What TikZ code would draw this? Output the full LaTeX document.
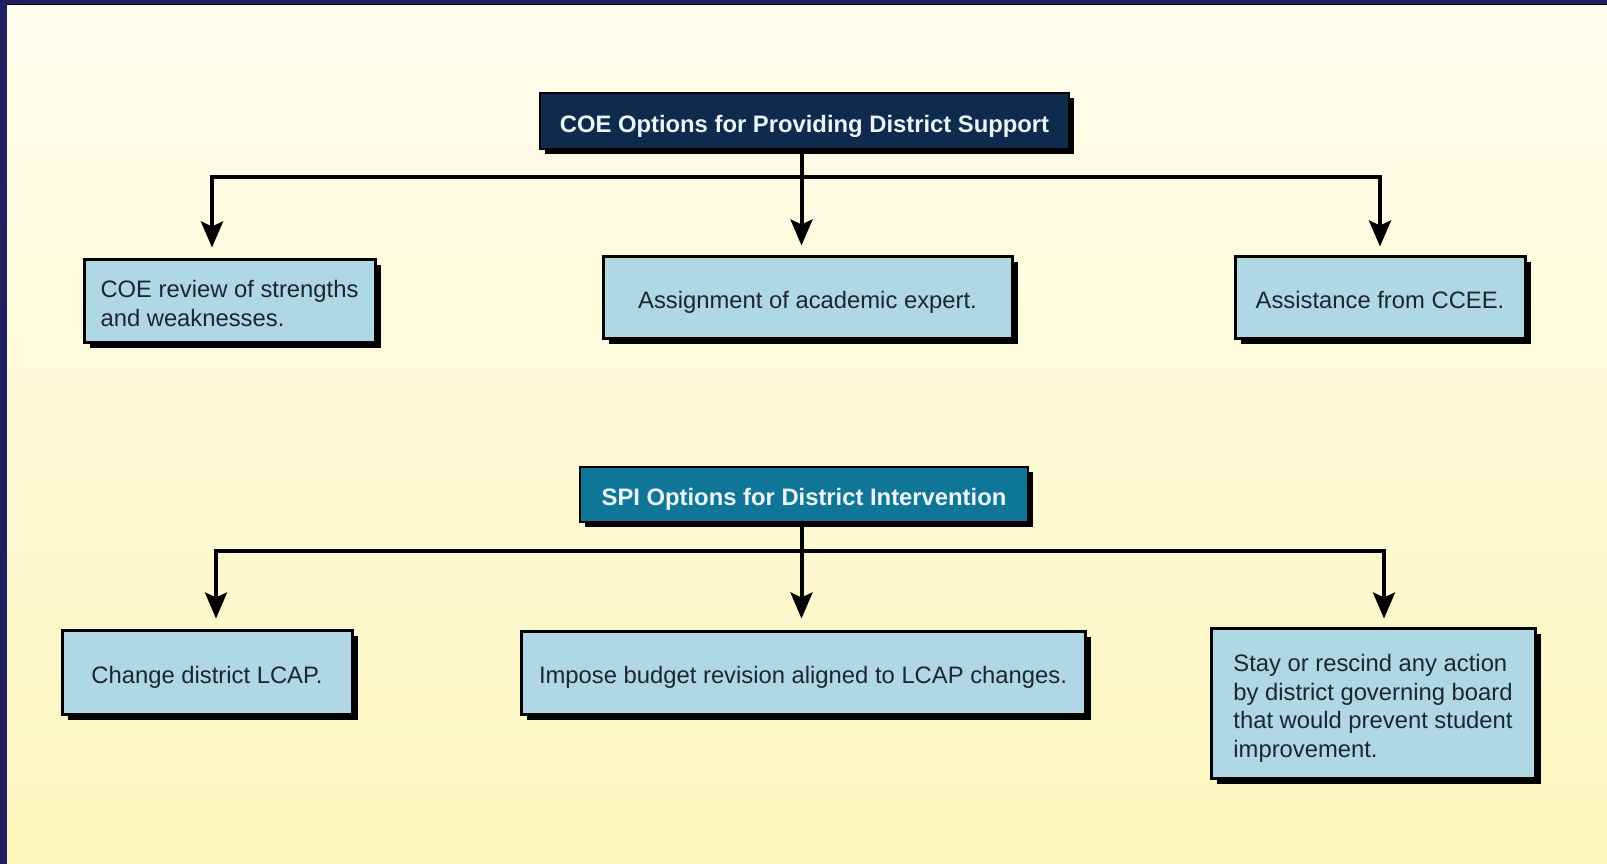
\documentclass[tikz,border=0pt]{standalone}
\usepackage{fontspec}
\setmainfont{Liberation Sans}
\usetikzlibrary{arrows.meta,shadows,positioning}
\definecolor{frame}{RGB}{32,31,96}
\definecolor{bgtop}{RGB}{255,253,238}
\definecolor{bgbot}{RGB}{252,246,190}
\definecolor{boxfill}{RGB}{176,215,228}
\definecolor{boxtext}{RGB}{28,38,50}
\definecolor{navyfill}{RGB}{14,42,76}
\definecolor{tealfill}{RGB}{16,118,152}
\definecolor{titletext}{RGB}{236,246,250}
\tikzset{
  optbox/.style={draw=black, line width=3pt, fill=boxfill, inner sep=0pt,
    text=boxtext, align=left, font=\fontsize{23.8}{28.4}\selectfont,
    text height=22.5pt, text depth=0pt,
    drop shadow={shadow xshift=6pt, shadow yshift=-6pt, fill=black, opacity=1}},
  headbox/.style={draw=black, line width=2pt, inner sep=0pt,
    text=titletext, font=\fontsize{23.8}{28}\selectfont\bfseries,
    text height=22.5pt, text depth=0pt,
    drop shadow={shadow xshift=5pt, shadow yshift=-5pt, fill=black, opacity=1}},
  arr/.style={line width=4pt, draw=black, -{Stealth[length=26pt,width=22pt,inset=5pt]}}
}
\begin{document}
\begin{tikzpicture}[x=1pt,y=-1pt]
\useasboundingbox (0,0) rectangle (1607,864);
% background and frame
\fill[frame] (0,0) rectangle (1607,864);
\shade[top color=bgtop, bottom color=bgbot] (7,5) rectangle (1607,864);
\fill[black] (7,4) rectangle (1607,5.5);

% upper tree
\node[headbox, fill=navyfill, minimum width=529pt, minimum height=56pt] (t1) at (804.5,121) {COE Options for Providing District Support};
\node[optbox, minimum width=291pt, minimum height=83pt, text height=51.5pt, text depth=0pt] (b1) at (229.5,300.5) {COE review of strengths\\and weaknesses.};
\node[optbox, minimum width=409pt, minimum height=82pt] (b2) at (807.5,297) {Assignment of academic expert.};
\node[optbox, minimum width=290pt, minimum height=82pt] (b3) at (1380,297) {Assistance from CCEE.};
\coordinate (bus1) at (801.5,177);
\draw[arr, shorten >=9pt] (bus1 |- t1.south) -- (bus1 |- b2.north);
\draw[arr, shorten >=10pt] (bus1) -| ([xshift=-17.5pt]b1.north);
\draw[arr, shorten >=8pt] (bus1) -| ([xshift=0pt]b3.north);

% lower tree
\node[headbox, fill=tealfill, minimum width=448pt, minimum height=55pt] (t2) at (804,494.5) {SPI Options for District Intervention};
\node[optbox, minimum width=290pt, minimum height=84pt] (b4) at (207,672) {Change district LCAP.};
\node[optbox, minimum width=564pt, minimum height=83pt] (b5) at (803,672.5) {Impose budget revision aligned to LCAP changes.};
\node[optbox, minimum width=324pt, minimum height=150pt, text height=108pt, text depth=0pt] (b6) at (1373,703) {Stay or rescind any action\\by district governing board\\that would prevent student\\improvement.};
\coordinate (bus2) at (801.5,551);
\draw[arr, shorten >=11pt] (bus2 |- t2.south) -- (bus2 |- b5.north);
\draw[arr, shorten >=10pt] (bus2) -| ([xshift=9pt]b4.north);
\draw[arr, shorten >=8pt] (bus2) -| ([xshift=11pt]b6.north);
\end{tikzpicture}
\end{document}
